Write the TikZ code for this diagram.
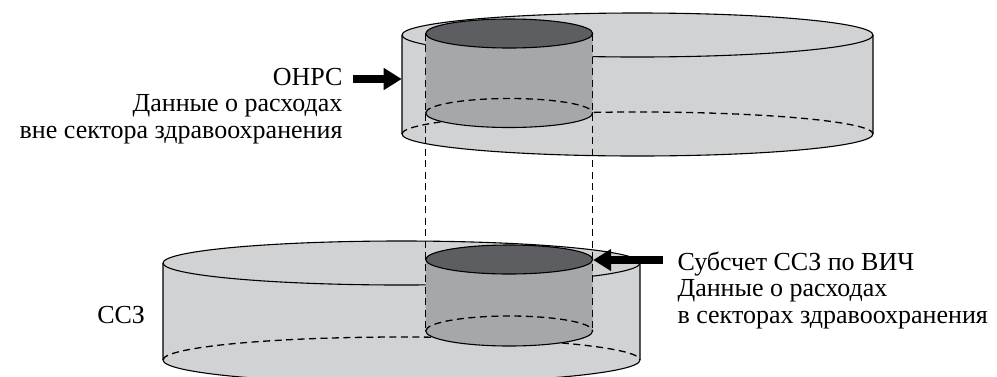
\documentclass[tikz,border=0pt]{standalone}
\usepackage{fontspec}
\setmainfont{Liberation Serif}
\usetikzlibrary{arrows.meta}
\definecolor{lightg}{HTML}{D1D2D4}
\definecolor{midg}{HTML}{A5A7AA}
\definecolor{darkg}{HTML}{5D5E61}
\begin{document}
\begin{tikzpicture}[x=1pt,y=-1pt,line width=1.1pt,
  hid/.style={dash pattern=on 7pt off 4.5pt,line width=1.3pt},
  lab/.style={font=\fontsize{26}{26}\selectfont,inner sep=0pt},
  bigarrow/.style={line width=7.5pt,-{Triangle[length=18pt,width=21pt]}}]
\useasboundingbox (0,0) rectangle (997,376);
\clip (0,0) rectangle (997,376);

% ---------- upper cylinder (ОНРС) ----------
\fill[lightg] (402,35) -- (402,134) arc[start angle=180,end angle=360,x radius=235.5pt,y radius=22pt]
  -- (873,35) arc[start angle=0,end angle=180,x radius=235.5pt,y radius=22pt] -- cycle;
\draw[hid] (402,134) arc[start angle=180,end angle=0,x radius=235.5pt,y radius=22pt];
\draw (637.5,35) ellipse[x radius=235.5pt,y radius=22pt];
\draw (402,35) -- (402,134) arc[start angle=180,end angle=360,x radius=235.5pt,y radius=22pt] -- (873,35);

% inner cylinder (upper)
\fill[midg] (425.7,33.5) -- (425.7,113) arc[start angle=180,end angle=360,x radius=83.5pt,y radius=14.5pt]
  -- (592.7,33.5) -- cycle;
\filldraw[fill=darkg] (509.2,33.5) ellipse[x radius=83.5pt,y radius=14.5pt];
\draw (425.7,113) arc[start angle=180,end angle=360,x radius=83.5pt,y radius=14.5pt];
\draw[hid] (425.7,113) arc[start angle=180,end angle=0,x radius=83.5pt,y radius=14.5pt];

% ---------- lower cylinder (ССЗ) ----------
\fill[lightg] (163,263) -- (163,360) arc[start angle=180,end angle=360,x radius=238.5pt,y radius=23pt]
  -- (640,263) arc[start angle=0,end angle=180,x radius=238.5pt,y radius=22pt] -- cycle;
\draw[hid] (163,360) arc[start angle=180,end angle=0,x radius=238.5pt,y radius=23pt];
\draw (401.5,263) ellipse[x radius=238.5pt,y radius=22pt];
\draw (163,263) -- (163,360) arc[start angle=180,end angle=360,x radius=238.5pt,y radius=23pt] -- (640,263);

% inner cylinder (lower)
\fill[midg] (425.7,259.5) -- (425.7,331) arc[start angle=180,end angle=360,x radius=83.5pt,y radius=15pt]
  -- (592.7,259.5) -- cycle;
\filldraw[fill=darkg] (509.2,259.5) ellipse[x radius=83.5pt,y radius=14.5pt];
\draw (425.7,331) arc[start angle=180,end angle=360,x radius=83.5pt,y radius=15pt];
\draw[hid] (425.7,331) arc[start angle=180,end angle=0,x radius=83.5pt,y radius=15pt];

% ---------- dashed projection lines ----------
\coordinate (lt) at (425.7,33.5);
\coordinate (lb) at (425.7,331);
\coordinate (rt) at (592.7,33.5);
\coordinate (rb) at (592.7,331);
\draw[hid] (lt) -- (lb);
\draw[hid] (rt) -- (rb);

% ---------- labels ----------
\node[lab,anchor=base east] (onrs) at (343,85) {ОНРС};
\node[lab,anchor=base east] (onrs2) at (343,111.5) {Данные о расходах};
\node[lab,anchor=base east] (onrs3) at (343,138) {вне сектора здравоохранения};

\node[lab,anchor=base west] (sub1) at (677,270) {Субсчет ССЗ по ВИЧ};
\node[lab,anchor=base west] (sub2) at (677,296.5) {Данные о расходах};
\node[lab,anchor=base west] (sub3) at (677,323) {в секторах здравоохранения};

\node[lab,anchor=base west] (ssz) at (96.7,323) {ССЗ};

% ---------- arrows ----------
\coordinate (a1s) at (353,79);
\coordinate (a1e) at (401.7,79);
\coordinate (a2s) at (663,260);
\coordinate (a2e) at (593.2,260);
\draw[bigarrow] (a1s) -- (a1e);
\draw[bigarrow] (a2s) -- (a2e);
\end{tikzpicture}
\end{document}
